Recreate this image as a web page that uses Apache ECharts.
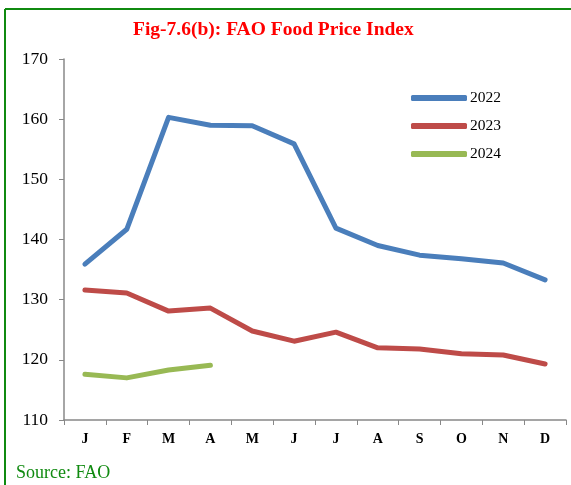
<!DOCTYPE html>
<html><head><meta charset="utf-8">
<script src="https://cdn.jsdelivr.net/npm/echarts@6/dist/echarts.min.js"></script>
<style>html,body{margin:0;padding:0;background:#fff}#c{width:571px;height:485px}</style>
</head><body><div id="c"></div>
<script>
const categories = ['J','F','M','A','M','J','J','A','S','O','N','D'];
const yTicks = [110,120,130,140,150,160,170];
const s2022 = [135.9,141.7,160.3,159.0,158.9,155.9,141.9,139.0,137.4,136.8,136.1,133.3];
const s2023 = [131.6,131.1,128.1,128.6,124.8,123.1,124.6,122.0,121.8,121.0,120.8,119.3];
const s2024 = [117.6,117.0,118.3,119.1];
const seriesNames = ['2022','2023','2024'];
const colors = ['#4A7EBB','#BE4B48','#98B954'];

const chart = echarts.init(document.getElementById('c'));
const serif = '"Liberation Serif","Times New Roman",serif';
function mk(name, data, color){
  return {name:name,type:'line',data:data,symbol:'none',smooth:false,
    lineStyle:{color:color,width:5,cap:'round',join:'round'},itemStyle:{color:color}};
}
chart.setOption({
  animation:false,
  title:{text:'Fig-7.6(b): FAO Food Price Index',left:128,top:15,
    textStyle:{color:'#FF0000',fontFamily:serif,fontWeight:'bold',fontSize:19.5}},
  grid:{left:64,right:5,top:59,bottom:65,containLabel:false},
  legend:{orient:'vertical',left:406,top:85,itemWidth:56,itemHeight:6,itemGap:12,
    icon:'roundRect',
    textStyle:{fontFamily:serif,fontSize:15.5,color:'#000',lineHeight:16,padding:[0,0,0,-2]},
    data:seriesNames},
  xAxis:{type:'category',data:categories,boundaryGap:true,
    axisLine:{lineStyle:{color:'#888',width:1.5}},
    axisTick:{show:true,length:5,lineStyle:{color:'#888'}},
    axisLabel:{fontFamily:serif,fontSize:14,fontWeight:'bold',color:'#000',margin:12}},
  yAxis:{type:'value',min:yTicks[0],max:yTicks[yTicks.length-1],interval:10,
    axisLine:{show:true,lineStyle:{color:'#888',width:1.5}},
    axisTick:{show:true,length:5,lineStyle:{color:'#888'}},
    splitLine:{show:false},
    axisLabel:{fontFamily:serif,fontSize:17.5,color:'#000',margin:16}},
  series:[mk(seriesNames[0],s2022,colors[0]),mk(seriesNames[1],s2023,colors[1]),mk(seriesNames[2],s2024,colors[2])],
  graphic:[
    {type:'line',shape:{x1:5,y1:9,x2:571,y2:9},style:{stroke:'#108A10',lineWidth:2}},
    {type:'line',shape:{x1:5,y1:9,x2:5,y2:485},style:{stroke:'#108A10',lineWidth:2}},
    {type:'text',left:16,top:464,style:{text:'Source: FAO',fill:'#108A10',font:'18px '+serif}}
  ]
});
</script></body></html>
